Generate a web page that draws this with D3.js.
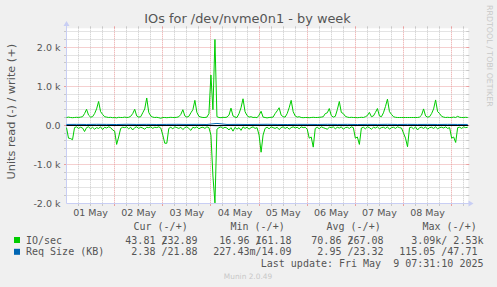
<!DOCTYPE html>
<html>
<head>
<meta charset="utf-8">
<script src="https://cdn.jsdelivr.net/npm/d3@7"></script>
<style>
  body { margin: 0; background: #f0f0f0; }
  svg { display: block; }
  text { font-family: "DejaVu Sans", sans-serif; fill: #555; }
  .mono { font-family: "DejaVu Sans Mono", monospace; white-space: pre; }
</style>
</head>
<body>
<svg id="chart" width="497" height="287"></svg>
<script>
// Data

const dayLabels = ['01 May', '02 May', '03 May', '04 May', '05 May', '06 May', '07 May', '08 May'];
const yTickValues = [-2000, -1000, 0, 1000, 2000];
const yTickLabels = ['-2.0 k', '-1.0 k', '0.0', '1.0 k', '2.0 k'];

// IO/sec, one sample per hour from 01 May 00:00 (write is +, read is -)
const ioWrite = [
  200,210,200,195,200,205,200,210,220,300,410,260,210,220,300,420,610,350,280,220,210,200,205,195,
  200,190,205,200,200,210,200,205,230,300,410,240,210,220,320,420,700,330,240,210,200,205,195,180,
  200,200,195,200,205,200,200,205,220,280,400,240,210,230,320,400,640,330,230,210,200,200,210,300,
  1290,400,2200,220,200,195,205,200,210,260,440,240,210,200,300,450,680,350,250,210,220,200,205,195,
  260,360,210,200,190,200,205,210,300,370,450,260,220,210,300,450,640,350,240,210,220,200,195,200,
  200,195,200,205,200,200,205,210,220,300,320,430,250,210,230,400,610,330,300,230,210,200,205,200,
  200,195,200,205,200,220,250,330,220,240,330,430,240,220,320,480,670,350,280,220,205,200,200,200,
  200,200,200,200,200,200,200,200,210,260,420,240,210,220,300,420,650,350,300,230,210,200,205,200,
  200,210,200,230,205,200,200,205,200
];
const ioRead = [
  -60,-330,-340,-370,-60,-40,-80,-50,-70,-160,-60,-40,-90,-50,-100,-60,-80,-40,-110,-50,-70,-40,-60,-120,
  -150,-490,-300,-80,-50,-60,-40,-90,-50,-120,-60,-40,-80,-50,-70,-100,-50,-60,-40,-80,-50,-60,-40,-70,
  -250,-460,-460,-80,-50,-90,-40,-60,-80,-50,-110,-60,-40,-80,-130,-50,-70,-40,-90,-60,-50,-80,-40,-60,
  -250,-1300,-1990,-100,-60,-40,-80,-50,-70,-120,-60,-150,-50,-100,-60,-130,-40,-80,-50,-100,-60,-40,-80,-60,
  -250,-690,-250,-80,-50,-90,-40,-60,-80,-50,-110,-60,-40,-80,-50,-100,-60,-40,-70,-50,-90,-40,-60,-50,
  -100,-330,-300,-560,-80,-50,-90,-40,-60,-80,-100,-50,-60,-40,-90,-50,-70,-40,-100,-60,-50,-80,-40,-60,
  -330,-300,-490,-70,-50,-90,-40,-60,-100,-50,-70,-40,-90,-60,-50,-80,-40,-100,-60,-50,-80,-40,-60,-70,
  -200,-330,-550,-60,-50,-90,-40,-120,-60,-50,-80,-40,-100,-60,-50,-80,-40,-90,-60,-50,-70,-40,-80,-60,
  -330,-300,-440,-60,-50,-80,-40,-60,-50
];

// Req Size (KB), one sample every 5 hours
const reqWrite = [22,24,21,25,23,20,26,22,24,21,23,25,22,24,21,48,22,24,21,23,26,22,20,24,23,21,25,22,24,20,23,22,25,21,24,22,23,21,24,22,22];
const reqRead = [-2.4,-3,-2.2,-3.5,-2.8,-2.1,-4,-2.6,-3.1,-2.3,-2.9,-3.4,-2.5,-3.8,-2.2,-12,-2.7,-3.2,-2.4,-3,-2.6,-2.9,-2.2,-3.6,-2.8,-2.5,-3.1,-2.3,-2.7,-3.3,-2.4,-2.9,-2.6,-3.2,-2.3,-2.8,-3,-2.5,-2.7,-2.4,-2.4];

// Legend
const legendHeads = ['Cur (-/+)', 'Min (-/+)', 'Avg (-/+)', 'Max (-/+)'];
const ioStatRead = [' 43.81 /', ' 16.96 /', ' 70.86 /', '  3.09k/'];
const ioStatWrite = ['232.89 ', '161.18 ', '267.08 ', '  2.53k'];
const reqStatRead = ['  2.38 /', '227.43m/', '  2.95 /', '115.05 /'];
const reqStatWrite = [' 21.88 ', ' 14.09 ', ' 23.32 ', ' 47.71 '];
const lastUpdate = 'Last update: Fri May  9 07:31:10 2025';

// Setup

const svg = d3.select('#chart');
svg.append('rect').attr('width', 497).attr('height', 287).attr('fill', '#f0f0f0');

const hour = 3600 * 1000;
const start = Date.UTC(2025, 4, 1, 0, 0);
const x = d3.scaleUtc()
    .domain([new Date(start), new Date(start + 200.3 * hour)])
    .range([66.5, 468.3]);
const y = d3.scaleLinear()
    .domain([-2000, 2487])
    .range([203.3, 28.3]);

const X0 = 66.5, X1 = 468.3, Y0 = 203.5, Y1 = 28.3;
const snap = (v) => Math.floor(v) + 0.5;

svg.append('rect')
    .attr('x', X0).attr('y', Y1)
    .attr('width', X1 - X0).attr('height', Y0 - Y1)
    .attr('fill', '#ffffff');

// Grid

const minorCol = '#c8c8c8', majorCol = '#eaa0a0';
const grid = svg.append('g');

x.ticks(d3.utcHour.every(6)).forEach(function (t) {
    let px = snap(x(t));
    if (px <= X0 + 0.5) return;
    let col = t.getUTCHours() == 0 ? majorCol : minorCol;
    grid.append('line').attr('x1', px).attr('x2', px).attr('y1', Y1).attr('y2', Y0)
        .attr('stroke', col).attr('stroke-dasharray', '1,1');
    grid.append('line').attr('x1', px).attr('x2', px).attr('y1', Y0).attr('y2', Y0 + 2.5)
        .attr('stroke', col);
    grid.append('line').attr('x1', px).attr('x2', px).attr('y1', Y1 - 2).attr('y2', Y1)
        .attr('stroke', col);
});

d3.range(-1800, 2401, 200).forEach(function (v) {
    let py = snap(y(v));
    let col = v % 1000 == 0 ? majorCol : minorCol;
    grid.append('line').attr('x1', X0).attr('x2', X1).attr('y1', py).attr('y2', py)
        .attr('stroke', col).attr('stroke-dasharray', '1,1');
    grid.append('line').attr('x1', X0 - 2.5).attr('x2', X0).attr('y1', py).attr('y2', py)
        .attr('stroke', col);
    grid.append('line').attr('x1', X1 - 2).attr('x2', X1 + 1).attr('y1', py).attr('y2', py)
        .attr('stroke', col);
});

// Axes

const axisCol = '#c8cef4';
svg.append('line').attr('x1', X0).attr('x2', X0).attr('y1', Y0).attr('y2', 24)
    .attr('stroke', axisCol);
svg.append('path').attr('d', 'M63.5,26L69.5,26L66.5,21Z').attr('fill', axisCol);
svg.append('line').attr('x1', X0).attr('x2', 470).attr('y1', Y0).attr('y2', Y0)
    .attr('stroke', axisCol);
svg.append('path').attr('d', 'M468.5,200.5L468.5,206.5L473.5,203.5Z').attr('fill', axisCol);

svg.append('g').selectAll('text')
    .data(yTickValues)
    .enter().append('text')
        .attr('x', 60.5)
        .attr('y', (d) => snap(y(d)) + 3.4)
        .attr('text-anchor', 'end')
        .style('font-size', '9.5px')
        .text((d, i) => yTickLabels[i]);

svg.append('g').selectAll('text')
    .data(dayLabels)
    .enter().append('text')
        .attr('x', (d, i) => x(new Date(start + (i * 24 + 12) * hour)))
        .attr('y', 215.5)
        .attr('text-anchor', 'middle')
        .style('font-size', '9.5px')
        .text((d) => d);

// Series

const lineOf = (step) => d3.line()
    .x((d, i) => x(new Date(start + i * step * hour)))
    .y((d) => y(d));

function drawSeries(data, step, color) {
    svg.append('path')
        .datum(data)
        .attr('d', lineOf(step))
        .attr('fill', 'none')
        .attr('stroke', color)
        .attr('stroke-width', 1);
}

drawSeries(ioRead, 1, '#00cc00');
drawSeries(ioWrite, 1, '#00cc00');
drawSeries(reqRead, 5, '#0066b3');
drawSeries(reqWrite, 5, '#0066b3');

svg.append('line').attr('x1', X0).attr('x2', X1).attr('y1', snap(y(0))).attr('y2', snap(y(0)))
    .attr('stroke', '#000').attr('stroke-width', 1);

// Titles

svg.append('text')
    .attr('x', 247.5).attr('y', 22.5)
    .attr('text-anchor', 'middle')
    .style('font-size', '12.9px')
    .text('IOs for /dev/nvme0n1 - by week');

svg.append('text')
    .attr('transform', 'translate(15,111.7) rotate(-90)')
    .attr('text-anchor', 'middle')
    .style('font-size', '11.3px')
    .text('Units read (-) / write (+)');

svg.append('text')
    .attr('transform', 'translate(486.5,5) rotate(90)')
    .style('font-size', '7.9px')
    .style('fill', '#c8c8c8')
    .text('RRDTOOL / TOBI OETIKER');

// Legend

const cw = 6.02;
const colStart = [119.3, 213.3, 305.3, 399.2];
const headX = [133.5, 230.5, 326.5, 422.5];

let legend = svg.append('g').attr('class', 'mono').style('font-size', '10px');

legend.selectAll('.head')
    .data(legendHeads)
    .enter().append('text')
        .attr('class', 'mono')
        .attr('x', (d, i) => headX[i])
        .attr('y', 230.2)
        .text((d) => d);

function legendRow(label, color, reads, writes, yBase) {
    legend.append('rect')
        .attr('x', 14).attr('y', yBase - 6.5)
        .attr('width', 6).attr('height', 6)
        .attr('fill', color);
    legend.append('text').attr('class', 'mono')
        .attr('x', 26).attr('y', yBase).text(label);
    reads.forEach(function (s, i) {
        let t = legend.append('text').attr('class', 'mono')
            .attr('x', colStart[i]).attr('y', yBase);
        let w = writes[i];
        if (w[0] == ' ') {
            // the padding space falls on the slash: plain join
            t.text(s + w.slice(1));
        } else {
            // rrdtool prints the write value one cell back, over the slash
            t.append('tspan').text(s);
            t.append('tspan').attr('dx', -cw).text(w);
        }
    });
}

legendRow('IO/sec', '#00cc00', ioStatRead, ioStatWrite, 243.5);
legendRow('Req Size (KB)', '#0066b3', reqStatRead, reqStatWrite, 255.3);

legend.append('text').attr('class', 'mono')
    .attr('x', 483.5).attr('y', 266.8)
    .attr('text-anchor', 'end')
    .text(lastUpdate);

svg.append('text')
    .attr('x', 248).attr('y', 278.7)
    .attr('text-anchor', 'middle')
    .style('font-size', '7.4px')
    .style('fill', '#c8c8c8')
    .text('Munin 2.0.49');
</script>
</body>
</html>
